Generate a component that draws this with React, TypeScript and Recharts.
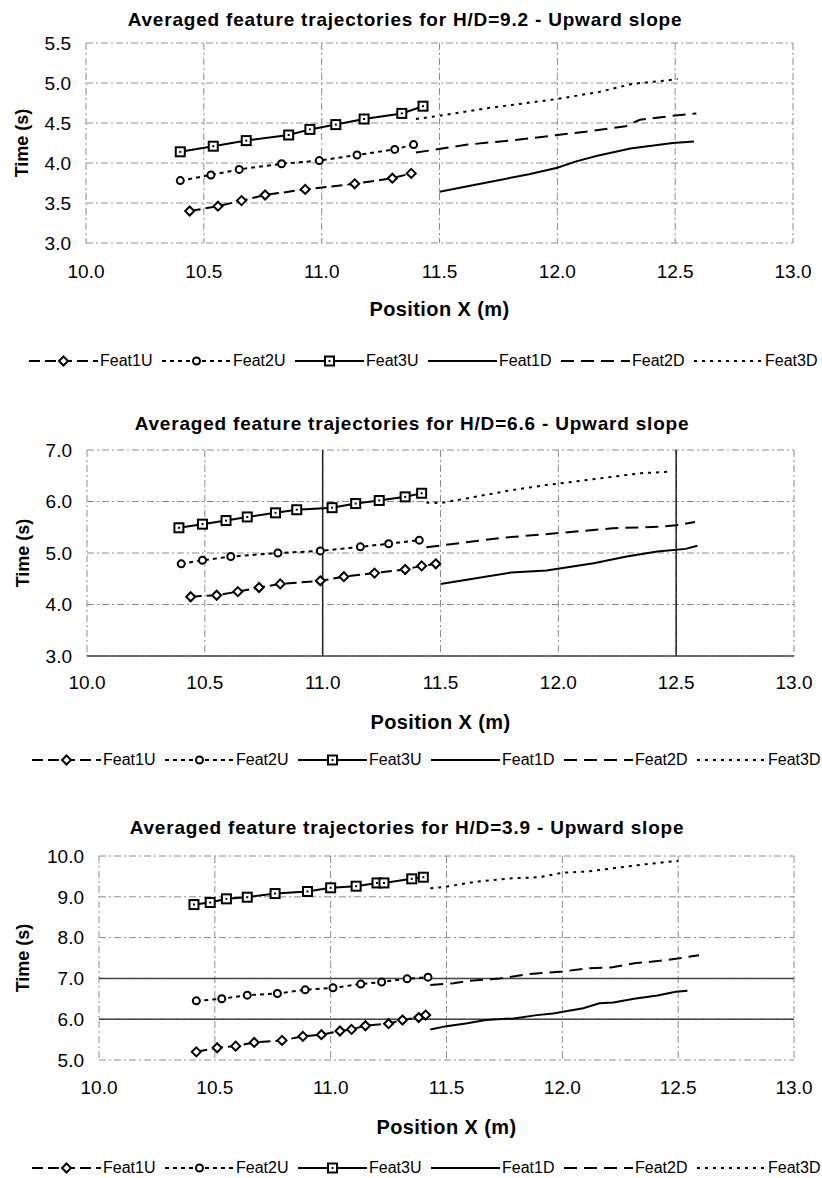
import React from 'react';
import { LineChart, Line, XAxis, YAxis, CartesianGrid, ReferenceLine } from 'recharts';

type Pt = [number, number];

const FONT = '"Liberation Sans", Arial, Helvetica, sans-serif';

const seriesNames = ['Feat1U', 'Feat2U', 'Feat3U', 'Feat1D', 'Feat2D', 'Feat3D'];
const xTicks = [10, 10.5, 11, 11.5, 12, 12.5, 13];

// H/D = 9.2
const hd92Ticks = [3, 3.5, 4, 4.5, 5, 5.5];
const hd92Feat1U: Pt[] = [[10.44, 3.40], [10.56, 3.46], [10.66, 3.53], [10.76, 3.60], [10.93, 3.67], [11.14, 3.74], [11.30, 3.81], [11.38, 3.87]];
const hd92Feat2U: Pt[] = [[10.40, 3.78], [10.53, 3.85], [10.65, 3.92], [10.83, 3.99], [10.99, 4.03], [11.15, 4.10], [11.31, 4.17], [11.39, 4.23]];
const hd92Feat3U: Pt[] = [[10.40, 4.14], [10.54, 4.21], [10.68, 4.28], [10.86, 4.35], [10.95, 4.42], [11.06, 4.48], [11.18, 4.55], [11.34, 4.62], [11.43, 4.71]];
const hd92Feat1D: Pt[] = [[11.50, 3.64], [11.69, 3.75], [11.88, 3.86], [12.00, 3.94], [12.08, 4.02], [12.17, 4.09], [12.31, 4.18], [12.49, 4.25], [12.58, 4.27]];
const hd92Feat2D: Pt[] = [[11.40, 4.13], [11.62, 4.23], [11.83, 4.29], [12.00, 4.35], [12.12, 4.39], [12.29, 4.46], [12.35, 4.54], [12.49, 4.59], [12.59, 4.62]];
const hd92Feat3D: Pt[] = [[11.40, 4.55], [11.50, 4.59], [11.69, 4.68], [11.87, 4.75], [12.00, 4.80], [12.18, 4.89], [12.32, 4.99], [12.46, 5.03], [12.51, 5.05]];

// H/D = 6.6
const hd66Ticks = [3, 4, 5, 6, 7];
const hd66Feat1U: Pt[] = [[10.44, 4.15], [10.55, 4.18], [10.64, 4.25], [10.73, 4.33], [10.82, 4.40], [10.99, 4.46], [11.09, 4.54], [11.22, 4.61], [11.35, 4.68], [11.42, 4.75], [11.48, 4.79]];
const hd66Feat2U: Pt[] = [[10.40, 4.79], [10.49, 4.86], [10.61, 4.93], [10.81, 5.00], [10.99, 5.04], [11.16, 5.12], [11.28, 5.18], [11.41, 5.25]];
const hd66Feat3U: Pt[] = [[10.39, 5.49], [10.49, 5.56], [10.59, 5.63], [10.68, 5.70], [10.80, 5.78], [10.89, 5.84], [11.04, 5.88], [11.14, 5.96], [11.24, 6.02], [11.35, 6.09], [11.42, 6.16]];
const hd66Feat1D: Pt[] = [[11.50, 4.40], [11.80, 4.62], [11.95, 4.66], [12.15, 4.80], [12.29, 4.93], [12.42, 5.03], [12.54, 5.08], [12.59, 5.14]];
const hd66Feat2D: Pt[] = [[11.44, 5.11], [11.75, 5.29], [12.01, 5.39], [12.23, 5.48], [12.43, 5.51], [12.50, 5.54], [12.58, 5.60]];
const hd66Feat3D: Pt[] = [[11.44, 5.98], [11.50, 5.97], [11.61, 6.06], [11.80, 6.22], [11.95, 6.32], [12.18, 6.45], [12.35, 6.55], [12.48, 6.58]];

// H/D = 3.9
const hd39Ticks = [5, 6, 7, 8, 9, 10];
const hd39Feat1U: Pt[] = [[10.42, 5.20], [10.51, 5.30], [10.59, 5.34], [10.67, 5.43], [10.79, 5.48], [10.88, 5.58], [10.96, 5.62], [11.04, 5.71], [11.09, 5.75], [11.15, 5.84], [11.25, 5.89], [11.31, 5.98], [11.38, 6.04], [11.41, 6.10]];
const hd39Feat2U: Pt[] = [[10.42, 6.45], [10.53, 6.50], [10.64, 6.59], [10.77, 6.63], [10.89, 6.72], [11.01, 6.77], [11.13, 6.86], [11.22, 6.91], [11.33, 6.99], [11.42, 7.03]];
const hd39Feat3U: Pt[] = [[10.41, 8.81], [10.48, 8.86], [10.55, 8.95], [10.64, 8.99], [10.76, 9.08], [10.90, 9.13], [11.00, 9.22], [11.11, 9.26], [11.20, 9.34], [11.23, 9.34], [11.35, 9.44], [11.40, 9.48]];
const hd39Feat1D: Pt[] = [[11.43, 5.75], [11.50, 5.83], [11.59, 5.90], [11.67, 5.98], [11.79, 6.02], [11.89, 6.10], [11.96, 6.14], [12.09, 6.27], [12.16, 6.39], [12.22, 6.41], [12.31, 6.50], [12.41, 6.58], [12.49, 6.67], [12.54, 6.70]];
const hd39Feat2D: Pt[] = [[11.43, 6.84], [11.53, 6.88], [11.60, 6.94], [11.73, 7.00], [11.86, 7.11], [11.99, 7.16], [12.11, 7.25], [12.21, 7.27], [12.31, 7.37], [12.42, 7.43], [12.49, 7.48], [12.59, 7.57]];
const hd39Feat3D: Pt[] = [[11.43, 9.21], [11.50, 9.25], [11.63, 9.37], [11.77, 9.45], [11.90, 9.48], [12.00, 9.59], [12.11, 9.62], [12.22, 9.70], [12.36, 9.80], [12.50, 9.88]];

const STYLE: Record<string, { dash?: string; marker?: string }> = {
  Feat1U: { dash: '11 5', marker: 'diamond' },
  Feat2U: { dash: '4 4', marker: 'circle' },
  Feat3U: { marker: 'square' },
  Feat1D: {},
  Feat2D: { dash: '13 7' },
  Feat3D: { dash: '3 5' },
};

const Marker = ({ kind, cx, cy }: { kind?: string; cx?: number; cy?: number }) => {
  if (!kind || cx == null || cy == null) return null;
  if (kind === 'diamond') {
    return <path d={`M${cx},${cy - 4.5}L${cx + 4.5},${cy}L${cx},${cy + 4.5}L${cx - 4.5},${cy}Z`} fill="#fff" stroke="#000" strokeWidth={2} />;
  }
  if (kind === 'circle') {
    return <circle cx={cx} cy={cy} r={3.5} fill="#fff" stroke="#000" strokeWidth={2} />;
  }
  return (
    <g>
      <rect x={cx - 4.5} y={cy - 4.5} width={9} height={9} fill="#fff" stroke="#000" strokeWidth={2} />
      <rect x={cx - 1} y={cy - 1} width={2} height={2} fill="#000" />
    </g>
  );
};

type Layout = {
  top: number; plotTop: number; plotBottom: number; plotLeft: number; plotRight: number;
  titleCx: number; titleCy: number; xTickGap: number; xLabelCy: number; yLabelCx: number;
  legendCy: number; legendX: number;
};

const Panel = ({ title, yTicks, series, layout, refX = [], refY = [] }: {
  title: string; yTicks: number[]; series: Pt[][]; layout: Layout; refX?: number[]; refY?: number[];
}) => {
  const L = layout;
  const axisH = L.xLabelCy - L.plotBottom + 20;
  const height = L.plotBottom - L.top + axisH;
  const fmt = (v: number) => v.toFixed(1);
  return (
    <div style={{ position: 'absolute', left: 0, top: L.top, width: 822, height: L.legendCy - L.top + 14, fontFamily: FONT }}>
      <div style={{ position: 'absolute', left: L.titleCx - 400, top: L.titleCy - L.top - 12, width: 800, lineHeight: '24px', textAlign: 'center', fontWeight: 'bold', fontSize: 19, letterSpacing: 0.8 }}>
        {title}
      </div>
      <LineChart width={822} height={height} margin={{ top: L.plotTop - L.top, right: 822 - L.plotRight, left: 8, bottom: 0 }}>
        <CartesianGrid stroke="#8c8c8c" strokeDasharray="7 3 2 3" />
        <XAxis type="number" dataKey="x" domain={[10, 13]} ticks={xTicks} interval={0} tickFormatter={fmt}
          axisLine={false} tickLine={false} tickSize={0} tickMargin={L.xTickGap} height={axisH}
          tick={{ fill: '#000', fontSize: 19, fontFamily: FONT }}
          label={{ value: 'Position X (m)', position: 'insideBottom', offset: 13, style: { fill: '#000', fontWeight: 'bold', fontSize: 20, letterSpacing: 0.4, fontFamily: FONT } }} />
        <YAxis type="number" domain={[yTicks[0], yTicks[yTicks.length - 1]]} ticks={yTicks} interval={0} tickFormatter={fmt}
          axisLine={false} tickLine={false} tickSize={0} tickMargin={15} width={L.plotLeft - 8}
          tick={{ fill: '#000', fontSize: 19, fontFamily: FONT }}
          label={{ value: 'Time (s)', angle: -90, position: 'insideLeft', offset: L.yLabelCx - 8, style: { textAnchor: 'middle', fill: '#000', fontWeight: 'bold', fontSize: 18, fontFamily: FONT } }} />
        {refX.map(v => <ReferenceLine key={`rx${v}`} x={v} stroke="#222" strokeWidth={1.5} />)}
        {refY.map(v => <ReferenceLine key={`ry${v}`} y={v} stroke="#444" strokeWidth={1.5} />)}
        {seriesNames.map((name, i) => (
          <Line key={name} name={name} data={series[i].map(([x, t]) => ({ x, t }))} dataKey="t" type="linear"
            stroke="#000" strokeWidth={2} strokeDasharray={STYLE[name].dash}
            dot={(p: any) => <Marker key={`${name}-${p.index}`} kind={STYLE[name].marker} cx={p.cx} cy={p.cy} />}
            activeDot={false} isAnimationActive={false} />
        ))}
      </LineChart>
      {seriesNames.map((name, i) => {
        const x0 = L.legendX + i * 133;
        return (
          <div key={name} style={{ position: 'absolute', left: x0, top: L.legendCy - L.top - 12, height: 24, display: 'flex', alignItems: 'center' }}>
            <svg width={69} height={24}>
              <line x1={0} y1={12} x2={69} y2={12} stroke="#000" strokeWidth={2} strokeDasharray={STYLE[name].dash} />
              <Marker kind={STYLE[name].marker} cx={34.5} cy={12} />
            </svg>
            <span style={{ marginLeft: 2, fontSize: 16, lineHeight: '24px' }}>{name}</span>
          </div>
        );
      })}
    </div>
  );
};

export default function App() {
  return (
    <div style={{ position: 'absolute', left: 0, top: 0, width: 822, height: 1178, background: '#fff' }}>
      <Panel title="Averaged feature trajectories for H/D=9.2 - Upward slope" yTicks={hd92Ticks}
        series={[hd92Feat1U, hd92Feat2U, hd92Feat3U, hd92Feat1D, hd92Feat2D, hd92Feat3D]}
        layout={{ top: 0, plotTop: 43, plotBottom: 243, plotLeft: 86, plotRight: 793, titleCx: 405, titleCy: 19.5, xTickGap: 22, xLabelCy: 309, yLabelCx: 22, legendCy: 361, legendX: 29 }} />
      <Panel title="Averaged feature trajectories for H/D=6.6 - Upward slope" yTicks={hd66Ticks}
        series={[hd66Feat1U, hd66Feat2U, hd66Feat3U, hd66Feat1D, hd66Feat2D, hd66Feat3D]}
        refX={[11, 12.5]} refY={[3]}
        layout={{ top: 390, plotTop: 450, plotBottom: 656, plotLeft: 87, plotRight: 794, titleCx: 412, titleCy: 424, xTickGap: 20, xLabelCy: 722, yLabelCx: 22.5, legendCy: 760, legendX: 32 }} />
      <Panel title="Averaged feature trajectories for H/D=3.9 - Upward slope" yTicks={hd39Ticks}
        series={[hd39Feat1U, hd39Feat2U, hd39Feat3U, hd39Feat1D, hd39Feat2D, hd39Feat3D]}
        refY={[6, 7]}
        layout={{ top: 790, plotTop: 856, plotBottom: 1060, plotLeft: 99, plotRight: 794, titleCx: 407, titleCy: 828, xTickGap: 21, xLabelCy: 1127, yLabelCx: 23, legendCy: 1168, legendX: 32 }} />
    </div>
  );
}
